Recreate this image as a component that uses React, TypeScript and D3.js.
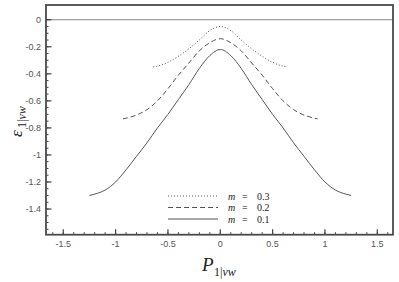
import React from "react";
import * as d3 from "d3";

const W = 399;
const H = 282;

// m = 0.1 (solid), half-curve x >= 0, mirrored
const xs01 = [0, 0.1, 0.2, 0.3, 0.4, 0.5, 0.6, 0.7, 0.8, 0.9, 1.0, 1.1, 1.2, 1.25];
const ys01 = [-0.22, -0.265, -0.36, -0.48, -0.59, -0.7, -0.8, -0.91, -1.01, -1.11, -1.2, -1.26, -1.29, -1.3];
// m = 0.2 (dashed)
const xs02 = [0, 0.1, 0.2, 0.3, 0.4, 0.5, 0.6, 0.7, 0.8, 0.9, 0.93];
const ys02 = [-0.14, -0.17, -0.23, -0.32, -0.41, -0.51, -0.6, -0.665, -0.705, -0.728, -0.733];
// m = 0.3 (dotted)
const xs03 = [0, 0.1, 0.2, 0.3, 0.4, 0.5, 0.6, 0.64];
const ys03 = [-0.05, -0.08, -0.15, -0.215, -0.27, -0.315, -0.343, -0.348];

const xMajor = [-1.5, -1, -0.5, 0, 0.5, 1, 1.5];
const xTickLabels = ["-1.5", "-1", "-0.5", "0", "0.5", "1", "1.5"];
const yMajor = [0, -0.2, -0.4, -0.6, -0.8, -1, -1.2, -1.4];
const yTickLabels = ["0", "-0.2", "-0.4", "-0.6", "-0.8", "-1", "-1.2", "-1.4"];
const legendLabels = ["0.3", "0.2", "0.1"];

const left = 46, right = 393, top = 5, bottom = 234.7;

function mirror(xs: number[], ys: number[]): [number, number][] {
  const pts: [number, number][] = [];
  for (let i = xs.length - 1; i > 0; i--) pts.push([-xs[i], ys[i]]);
  for (let i = 0; i < xs.length; i++) pts.push([xs[i], ys[i]]);
  return pts;
}

export default function App() {
  const x = d3.scaleLinear().domain([-1.665, 1.65]).range([left, right]);
  const y = d3.scaleLinear().domain([0.109, -1.59]).range([top, bottom]);
  const line = d3
    .line<[number, number]>()
    .x((d) => x(d[0]))
    .y((d) => y(d[1]))
    .curve(d3.curveMonotoneX);

  const xMinor = d3.range(-16, 17).map((i) => i / 10).filter((v) => x(v) > left + 1 && x(v) < right - 1);
  const yMinor = d3.range(0, 32).map((i) => -i * 0.05).filter((v) => y(v) < bottom - 1 && y(v) > top + 1);

  const series = [
    { pts: mirror(xs03, ys03), dash: "1,2" },
    { pts: mirror(xs02, ys02), dash: "5,3" },
    { pts: mirror(xs01, ys01), dash: "" },
  ];
  const stroke = "#555";
  const tickColor = "#444";
  const serif = "Liberation Serif, serif";

  return (
    <svg width={W} height={H} style={{ position: "absolute", left: 0, top: 0, background: "#fff" }}>
      <line x1={left} x2={right} y1={y(0)} y2={y(0)} stroke="#888" strokeWidth={1} />
      {series.map((s, i) => (
        <path key={i} d={line(s.pts) || ""} fill="none" stroke={stroke} strokeWidth={1} strokeDasharray={s.dash} />
      ))}
      {xMinor.map((v, i) => (
        <line key={"xm" + i} x1={x(v)} x2={x(v)} y1={bottom} y2={bottom - 2.5} stroke={tickColor} strokeWidth={1} />
      ))}
      {xMajor.map((v, i) => (
        <line key={"xM" + i} x1={x(v)} x2={x(v)} y1={bottom} y2={bottom - 5.5} stroke={tickColor} strokeWidth={1.2} />
      ))}
      {yMinor.map((v, i) => (
        <line key={"ym" + i} x1={left} x2={left + 2.5} y1={y(v)} y2={y(v)} stroke={tickColor} strokeWidth={1} />
      ))}
      {yMajor.map((v, i) => (
        <line key={"yM" + i} x1={left} x2={left + 5.5} y1={y(v)} y2={y(v)} stroke={tickColor} strokeWidth={1.2} />
      ))}
      <rect x={left} y={top} width={right - left} height={bottom - top} fill="none" stroke="#4a4a4a" strokeWidth={1.8} />
      {xMajor.map((v, i) => (
        <text key={"xl" + i} x={x(v)} y={247} textAnchor="middle" fontFamily="Liberation Sans, Arial, sans-serif" fontSize={9} fill="#555">
          {xTickLabels[i]}
        </text>
      ))}
      {yMajor.map((v, i) => (
        <text key={"yl" + i} x={41} y={y(v) + 3.2} textAnchor="end" fontFamily="Liberation Sans, Arial, sans-serif" fontSize={9} fill="#555">
          {yTickLabels[i]}
        </text>
      ))}
      {/* x axis title */}
      <text x={202} y={271} fontFamily={serif} fontSize={19} fontStyle="italic" fill="#222">P</text>
      <text x={214} y={276} fontFamily={serif} fontSize={12} fill="#222">1|<tspan fontStyle="italic">vw</tspan></text>
      {/* y axis title */}
      <g transform="translate(22,119) rotate(-90)">
        <text x={-18} y={0} fontFamily={serif} fontSize={17} fontStyle="italic" fill="#222">ε</text>
        <text x={-9} y={4} fontFamily={serif} fontSize={12} fill="#222">1|<tspan fontStyle="italic">vw</tspan></text>
      </g>
      {/* legend */}
      {series.map((s, i) => (
        <g key={"lg" + i}>
          <line x1={168} x2={218} y1={196 + i * 11.5} y2={196 + i * 11.5} stroke={stroke} strokeWidth={1} strokeDasharray={s.dash} />
          <text x={228} y={199.5 + i * 11.5} fontFamily={serif} fontSize={10} fontStyle="italic" fill="#222">m</text>
          <text x={242} y={199.5 + i * 11.5} fontFamily={serif} fontSize={10} fill="#222">=</text>
          <text x={257} y={199.5 + i * 11.5} fontFamily={serif} fontSize={10} fill="#222">{legendLabels[i]}</text>
        </g>
      ))}
    </svg>
  );
}
